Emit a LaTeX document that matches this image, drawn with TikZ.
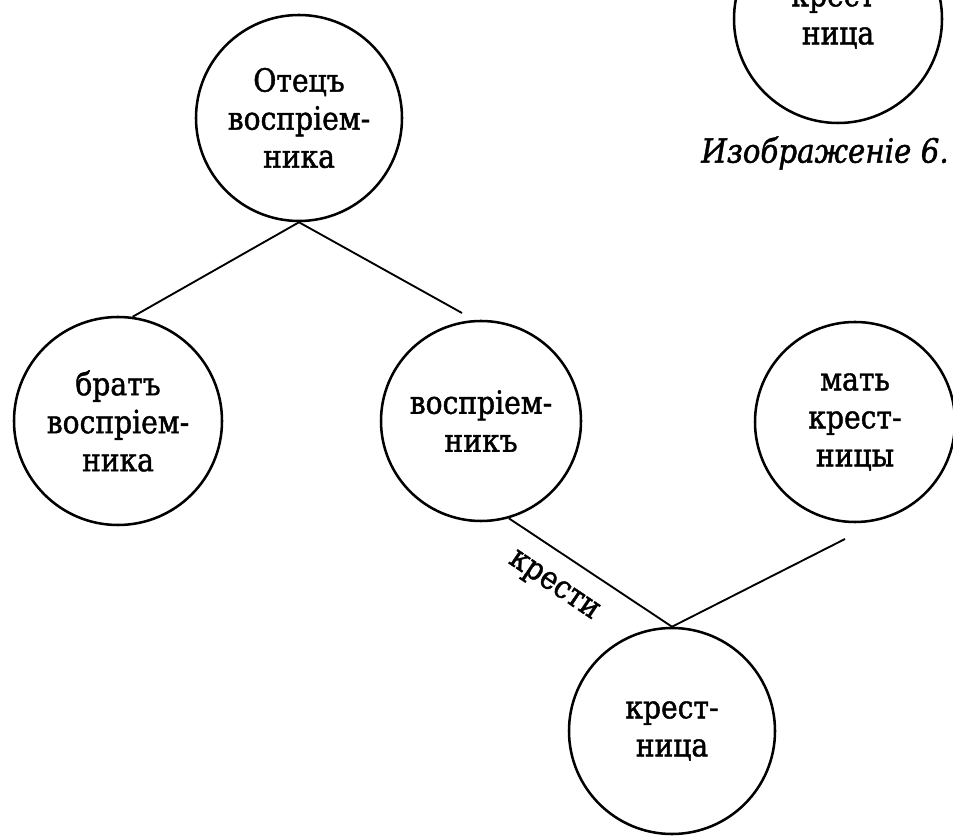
\documentclass[tikz,border=0pt]{standalone}
\usepackage{fontspec}
\setmainfont{DejaVu Serif}[FakeStretch=0.88,FakeBold=1.3]
\begin{document}
\begin{tikzpicture}[x=0.75pt,y=-0.75pt,
  person/.style={draw, circle, line width=1.9pt, inner sep=0pt, align=center,
    font=\fontsize{24}{28.5}\selectfont},
  link/.style={line width=1.4pt},
  lbl/.style={font=\fontsize{24}{28.5}\selectfont, inner sep=1pt}]
\useasboundingbox (0,0) rectangle (953,837);
\fill[white] (0,0) rectangle (953,837);
% circles (minimum size in pt = 2r * 0.75)
\node[person, minimum size=154.5pt] (top) at (299,118) {Отецъ\\воспріем-\\ника};
\node[person, minimum size=156pt] (brat) at (118,421) {братъ\\воспріем-\\ника};
\node[person, minimum size=150pt] (mid) at (481,421) {воспріем-\\никъ};
\node[person, minimum size=150pt] (mat) at (855,422) {мать\\крест-\\ницы};
\node[person, minimum size=154.5pt] (bot) at (672,731) {крест-\\ница};
\node[person, minimum size=156pt] (tr) at (838,19) {крест-\\ница};
\node[font=\fontsize{25}{28}\selectfont\itshape, inner sep=0pt] (cap) at (825,153) {Изображеніе 6.};
% free connector ends
\coordinate (midtop) at (462,313);
\coordinate (matend) at (845,539);
% connectors
\draw[link] (top.south) -- (brat.82);
\draw[link] (top.south) -- (midtop);
\draw[link] (mid.-74) -- (bot.north);
\draw[link] (bot.north) -- (matend);
\node[lbl, rotate=-34] (lab) at (553,587) {крести};
\end{tikzpicture}
\end{document}
